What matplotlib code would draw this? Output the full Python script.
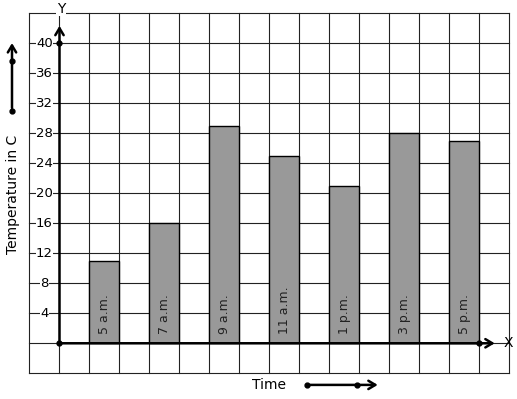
import matplotlib
matplotlib.use("Agg")
import matplotlib.pyplot as plt
import numpy as np

# data
times = ['5 a.m.', '7 a.m.', '9 a.m.', '11 a.m.', '1 p.m.', '3 p.m.', '5 p.m.']
temps = [11, 16, 29, 25, 21, 28, 27]
yticks = [4, 8, 12, 16, 20, 24, 28, 32, 36, 40]

fig = plt.figure(figsize=(5.17, 3.99), dpi=100)
ax = fig.add_axes([0, 0, 1, 1])
ax.set_xlim(-1.983, 15.25)
ax.set_ylim(-7.43, 45.77)
ax.axis('off')

# grid
for gx in range(-1, 16):
    ax.plot([gx, gx], [-4, 44], color='#222222', lw=0.8, zorder=1)
for gy in range(-4, 45, 4):
    ax.plot([-1, 15], [gy, gy], color='#222222', lw=0.8, zorder=1)

# bars
xpos = np.arange(len(times)) * 2 + 1.5
ax.bar(xpos, temps, width=1.0, color='#999999', edgecolor='black', lw=1.0, zorder=2)
for x, t in zip(xpos, times):
    ax.text(x, 1.2, t, rotation=90, ha='center', va='bottom', fontsize=9, color='#222222', zorder=3)

# axes with arrows
ax.annotate('', xy=(14.6, 0), xytext=(0, 0),
            arrowprops=dict(arrowstyle='->,head_length=0.5,head_width=0.3', lw=1.8, color='black'), zorder=4)
ax.annotate('', xy=(0, 42.7), xytext=(0, 0),
            arrowprops=dict(arrowstyle='->,head_length=0.5,head_width=0.3', lw=1.8, color='black'), zorder=4)
ax.plot([0, 0, 14.0], [0, 40, 0], 'o', color='black', ms=3.5, zorder=5)
ax.text(14.95, 0, 'X', ha='center', va='center', fontsize=10)
ax.text(0.05, 44.6, 'Y', ha='center', va='center', fontsize=10,
        bbox=dict(facecolor='white', edgecolor='none', pad=0.5), zorder=5)

# tick labels
for t in yticks:
    ax.text(-0.5, t, str(t), ha='center', va='center', fontsize=9.5, zorder=4,
            bbox=dict(facecolor='white', edgecolor='none', pad=0.3))

# axis labels
ax.text(-1.55, 19.8, 'Temperature in C', rotation=90, ha='center', va='center', fontsize=10)
ax.text(6.98, -5.55, 'Time', ha='center', va='center', fontsize=10)

# decorative arrows
ax.annotate('', xy=(-1.583, 40.4), xytext=(-1.583, 31.0),
            arrowprops=dict(arrowstyle='->,head_length=0.5,head_width=0.3', lw=1.8, color='black'))
ax.plot([-1.583, -1.583], [31.0, 37.6], 'o', color='black', ms=3.5)
ax.annotate('', xy=(10.7, -5.55), xytext=(8.25, -5.55),
            arrowprops=dict(arrowstyle='->,head_length=0.5,head_width=0.3', lw=1.8, color='black'))
ax.plot([8.25, 9.92], [-5.55, -5.55], 'o', color='black', ms=3.5)

fig.savefig('out.png', dpi=100, facecolor='white')
